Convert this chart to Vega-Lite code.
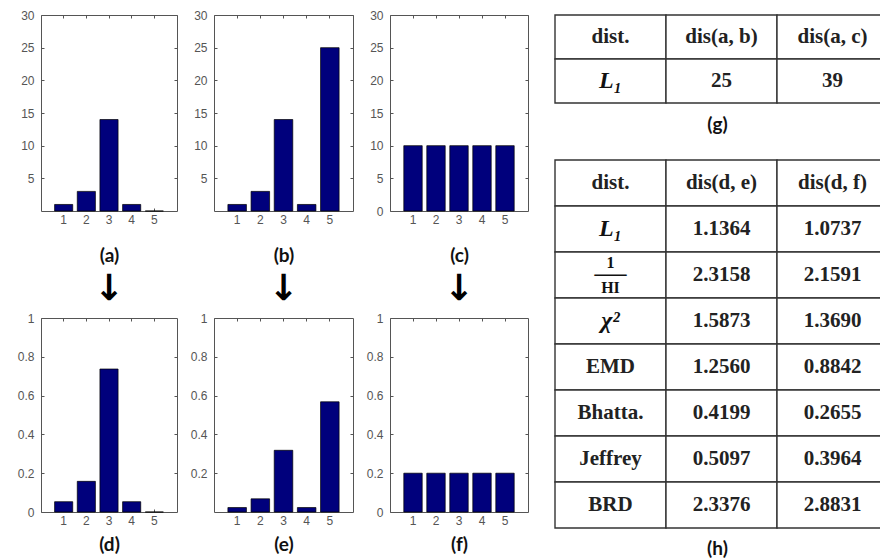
{
  "$schema": "https://vega.github.io/schema/vega-lite/v6.json",
  "background": "white",
  "padding": {"left": 12, "top": 8, "right": 0, "bottom": 0},
  "datasets": {
    "a": [{"bin": 1, "value": 1}, {"bin": 2, "value": 3}, {"bin": 3, "value": 14}, {"bin": 4, "value": 1}, {"bin": 5, "value": 0}],
    "b": [{"bin": 1, "value": 1}, {"bin": 2, "value": 3}, {"bin": 3, "value": 14}, {"bin": 4, "value": 1}, {"bin": 5, "value": 25}],
    "c": [{"bin": 1, "value": 10}, {"bin": 2, "value": 10}, {"bin": 3, "value": 10}, {"bin": 4, "value": 10}, {"bin": 5, "value": 10}],
    "d": [{"bin": 1, "value": 0.053}, {"bin": 2, "value": 0.158}, {"bin": 3, "value": 0.737}, {"bin": 4, "value": 0.053}, {"bin": 5, "value": 0}],
    "e": [{"bin": 1, "value": 0.023}, {"bin": 2, "value": 0.068}, {"bin": 3, "value": 0.318}, {"bin": 4, "value": 0.023}, {"bin": 5, "value": 0.568}],
    "f": [{"bin": 1, "value": 0.2}, {"bin": 2, "value": 0.2}, {"bin": 3, "value": 0.2}, {"bin": 4, "value": 0.2}, {"bin": 5, "value": 0.2}],
    "g": [
      {"r": 0, "c": 0, "t": "dist."}, {"r": 0, "c": 1, "t": "dis(a, b)"}, {"r": 0, "c": 2, "t": "dis(a, c)"},
      {"r": 1, "c": 0, "t": "L₁"}, {"r": 1, "c": 1, "t": "25"}, {"r": 1, "c": 2, "t": "39"}
    ],
    "h": [
      {"r": 0, "c": 0, "t": "dist."}, {"r": 0, "c": 1, "t": "dis(d, e)"}, {"r": 0, "c": 2, "t": "dis(d, f)"},
      {"r": 1, "c": 0, "t": "L₁"}, {"r": 1, "c": 1, "t": "1.1364"}, {"r": 1, "c": 2, "t": "1.0737"},
      {"r": 2, "c": 0, "t": "1/HI"}, {"r": 2, "c": 1, "t": "2.3158"}, {"r": 2, "c": 2, "t": "2.1591"},
      {"r": 3, "c": 0, "t": "χ²"}, {"r": 3, "c": 1, "t": "1.5873"}, {"r": 3, "c": 2, "t": "1.3690"},
      {"r": 4, "c": 0, "t": "EMD"}, {"r": 4, "c": 1, "t": "1.2560"}, {"r": 4, "c": 2, "t": "0.8842"},
      {"r": 5, "c": 0, "t": "Bhatta."}, {"r": 5, "c": 1, "t": "0.4199"}, {"r": 5, "c": 2, "t": "0.2655"},
      {"r": 6, "c": 0, "t": "Jeffrey"}, {"r": 6, "c": 1, "t": "0.5097"}, {"r": 6, "c": 2, "t": "0.3964"},
      {"r": 7, "c": 0, "t": "BRD"}, {"r": 7, "c": 1, "t": "2.3376"}, {"r": 7, "c": 2, "t": "2.8831"}
    ]
  },
  "hconcat": [
    {
      "spacing": 4,
      "vconcat": [
        {
          "spacing": 7,
          "hconcat": [
            {
              "width": 136, "height": 196, "data": {"name": "a"},
              "layer": [
                {"mark": {"type": "bar", "color": "#00007c", "stroke": "#000", "strokeWidth": 0.7},
                 "encoding": {
                   "x": {"field": "bin", "type": "ordinal", "scale": {"paddingInner": 0.2, "paddingOuter": 0.6}, "axis": {"orient": "bottom", "title": "(a)", "titlePadding": 20}},
                   "y": {"field": "value", "type": "quantitative", "scale": {"domain": [0, 30], "nice": false}, "axis": {"orient": "left", "title": null, "values": [5, 10, 15, 20, 25, 30]}}}},
                {"mark": {"type": "bar", "opacity": 0},
                 "encoding": {
                   "x": {"field": "bin", "type": "ordinal", "axis": {"orient": "top", "title": null}},
                   "y": {"field": "value", "type": "quantitative", "axis": {"orient": "right", "title": null, "values": [5, 10, 15, 20, 25, 30]}}}}
              ],
              "resolve": {"axis": {"x": "independent", "y": "independent"}}
            },
            {
              "width": 139, "height": 196, "data": {"name": "b"},
              "layer": [
                {"mark": {"type": "bar", "color": "#00007c", "stroke": "#000", "strokeWidth": 0.7},
                 "encoding": {
                   "x": {"field": "bin", "type": "ordinal", "scale": {"paddingInner": 0.2, "paddingOuter": 0.6}, "axis": {"orient": "bottom", "title": "(b)", "titlePadding": 20}},
                   "y": {"field": "value", "type": "quantitative", "scale": {"domain": [0, 30], "nice": false}, "axis": {"orient": "left", "title": null, "values": [5, 10, 15, 20, 25, 30]}}}},
                {"mark": {"type": "bar", "opacity": 0},
                 "encoding": {
                   "x": {"field": "bin", "type": "ordinal", "axis": {"orient": "top", "title": null}},
                   "y": {"field": "value", "type": "quantitative", "axis": {"orient": "right", "title": null, "values": [5, 10, 15, 20, 25, 30]}}}}
              ],
              "resolve": {"axis": {"x": "independent", "y": "independent"}}
            },
            {
              "width": 138, "height": 196, "data": {"name": "c"},
              "layer": [
                {"mark": {"type": "bar", "color": "#00007c", "stroke": "#000", "strokeWidth": 0.7},
                 "encoding": {
                   "x": {"field": "bin", "type": "ordinal", "scale": {"paddingInner": 0.2, "paddingOuter": 0.6}, "axis": {"orient": "bottom", "title": "(c)", "titlePadding": 20}},
                   "y": {"field": "value", "type": "quantitative", "scale": {"domain": [0, 30], "nice": false}, "axis": {"orient": "left", "title": null, "values": [0, 5, 10, 15, 20, 25, 30]}}}},
                {"mark": {"type": "bar", "opacity": 0},
                 "encoding": {
                   "x": {"field": "bin", "type": "ordinal", "axis": {"orient": "top", "title": null}},
                   "y": {"field": "value", "type": "quantitative", "axis": {"orient": "right", "title": null, "values": [5, 10, 15, 20, 25, 30]}}}}
              ],
              "resolve": {"axis": {"x": "independent", "y": "independent"}}
            }
          ]
        },
        {
          "spacing": 7,
          "hconcat": [
            {
              "width": 136, "height": 194, "data": {"name": "d"},
              "title": {"text": "↓", "frame": "group"},
              "layer": [
                {"mark": {"type": "bar", "color": "#00007c", "stroke": "#000", "strokeWidth": 0.7},
                 "encoding": {
                   "x": {"field": "bin", "type": "ordinal", "scale": {"paddingInner": 0.2, "paddingOuter": 0.6}, "axis": {"orient": "bottom", "title": "(d)", "titlePadding": 8}},
                   "y": {"field": "value", "type": "quantitative", "scale": {"domain": [0, 1], "nice": false}, "axis": {"orient": "left", "title": null, "values": [0, 0.2, 0.4, 0.6, 0.8, 1], "format": "~g"}}}},
                {"mark": {"type": "bar", "opacity": 0},
                 "encoding": {
                   "x": {"field": "bin", "type": "ordinal", "axis": {"orient": "top", "title": null}},
                   "y": {"field": "value", "type": "quantitative", "axis": {"orient": "right", "title": null, "values": [0.2, 0.4, 0.6, 0.8]}}}}
              ],
              "resolve": {"axis": {"x": "independent", "y": "independent"}}
            },
            {
              "width": 139, "height": 194, "data": {"name": "e"},
              "title": {"text": "↓", "frame": "group"},
              "layer": [
                {"mark": {"type": "bar", "color": "#00007c", "stroke": "#000", "strokeWidth": 0.7},
                 "encoding": {
                   "x": {"field": "bin", "type": "ordinal", "scale": {"paddingInner": 0.2, "paddingOuter": 0.6}, "axis": {"orient": "bottom", "title": "(e)", "titlePadding": 8}},
                   "y": {"field": "value", "type": "quantitative", "scale": {"domain": [0, 1], "nice": false}, "axis": {"orient": "left", "title": null, "values": [0.2, 0.4, 0.6, 0.8, 1], "format": "~g"}}}},
                {"mark": {"type": "bar", "opacity": 0},
                 "encoding": {
                   "x": {"field": "bin", "type": "ordinal", "axis": {"orient": "top", "title": null}},
                   "y": {"field": "value", "type": "quantitative", "axis": {"orient": "right", "title": null, "values": [0.2, 0.4, 0.6, 0.8]}}}}
              ],
              "resolve": {"axis": {"x": "independent", "y": "independent"}}
            },
            {
              "width": 138, "height": 194, "data": {"name": "f"},
              "title": {"text": "↓", "frame": "group"},
              "layer": [
                {"mark": {"type": "bar", "color": "#00007c", "stroke": "#000", "strokeWidth": 0.7},
                 "encoding": {
                   "x": {"field": "bin", "type": "ordinal", "scale": {"paddingInner": 0.2, "paddingOuter": 0.6}, "axis": {"orient": "bottom", "title": "(f)", "titlePadding": 8}},
                   "y": {"field": "value", "type": "quantitative", "scale": {"domain": [0, 1], "nice": false}, "axis": {"orient": "left", "title": null, "values": [0, 0.2, 0.4, 0.6, 0.8, 1], "format": "~g"}}}},
                {"mark": {"type": "bar", "opacity": 0},
                 "encoding": {
                   "x": {"field": "bin", "type": "ordinal", "axis": {"orient": "top", "title": null}},
                   "y": {"field": "value", "type": "quantitative", "axis": {"orient": "right", "title": null, "values": [0.2, 0.4, 0.6, 0.8]}}}}
              ],
              "resolve": {"axis": {"x": "independent", "y": "independent"}}
            }
          ]
        }
      ]
    },
    {
      "spacing": 24,
      "vconcat": [
        {
          "width": 333, "height": 88, "data": {"name": "g"},
          "view": {"stroke": null},
          "title": {"text": "(g)", "orient": "bottom", "offset": 12, "font": "Lato", "fontSize": 19, "fontWeight": "bold", "color": "#111", "frame": "group", "dx": -4},
          "encoding": {
            "x": {"field": "c", "type": "ordinal", "axis": null, "scale": {"paddingInner": 0, "paddingOuter": 0}},
            "y": {"field": "r", "type": "ordinal", "axis": null, "scale": {"paddingInner": 0, "paddingOuter": 0}}
          },
          "layer": [
            {"mark": {"type": "rect", "fill": "white", "stroke": "#333", "strokeWidth": 1.4}},
            {"transform": [{"filter": "datum.t != 'L₁'"}],
             "mark": {"type": "text", "font": "Liberation Serif", "fontWeight": "bold", "fontSize": 21, "color": "#222"},
             "encoding": {"text": {"field": "t"}}},
            {"transform": [{"filter": "datum.t == 'L₁'"}],
             "mark": {"type": "text", "font": "Liberation Serif", "fontWeight": "bold", "fontStyle": "italic", "fontSize": 24, "color": "#111"},
             "encoding": {"text": {"field": "t"}}}
          ]
        },
        {
          "width": 333, "height": 368, "data": {"name": "h"},
          "view": {"stroke": null},
          "title": {"text": "(h)", "orient": "bottom", "offset": 11, "font": "Lato", "fontSize": 19, "fontWeight": "bold", "color": "#111", "frame": "group", "dx": -4},
          "encoding": {
            "x": {"field": "c", "type": "ordinal", "axis": null, "scale": {"paddingInner": 0, "paddingOuter": 0}},
            "y": {"field": "r", "type": "ordinal", "axis": null, "scale": {"paddingInner": 0, "paddingOuter": 0}}
          },
          "layer": [
            {"mark": {"type": "rect", "fill": "white", "stroke": "#333", "strokeWidth": 1.4}},
            {"transform": [{"filter": "datum.t != 'L₁' && datum.t != 'χ²' && datum.t != '1/HI'"}],
             "mark": {"type": "text", "font": "Liberation Serif", "fontWeight": "bold", "fontSize": 21, "color": "#222"},
             "encoding": {"text": {"field": "t"}}},
            {"transform": [{"filter": "datum.t == 'L₁' || datum.t == 'χ²'"}],
             "mark": {"type": "text", "font": "Liberation Serif", "fontWeight": "bold", "fontStyle": "italic", "fontSize": 24, "color": "#111"},
             "encoding": {"text": {"field": "t"}}},
            {"transform": [{"filter": "datum.t == '1/HI'"}],
             "mark": {"type": "text", "font": "Liberation Serif", "fontWeight": "bold", "fontSize": 16, "lineBreak": "/", "lineHeight": 25, "dy": -12, "color": "#111"},
             "encoding": {"text": {"field": "t"}}},
            {"transform": [{"filter": "datum.t == '1/HI'"}],
             "mark": {"type": "text", "text": "—", "font": "Liberation Serif", "fontSize": 32, "dy": -2, "color": "#111"}}
          ]
        }
      ]
    }
  ],
  "spacing": 25,
  "config": {
    "view": {"stroke": "#555", "strokeWidth": 1},
    "axis": {
      "domain": false, "grid": false,
      "tickColor": "#555", "tickSize": -3, "tickWidth": 1,
      "labelFont": "Liberation Sans", "labelFontSize": 12, "labelColor": "#555",
      "titleFont": "Lato", "titleFontSize": 19, "titleFontWeight": "bold", "titleColor": "#111"
    },
    "axisLeft": {"minExtent": 28, "maxExtent": 28, "labelPadding": 10},
    "axisBottom": {"minExtent": 15, "maxExtent": 15, "labelPadding": 6, "labelAngle": 0},
    "axisTop": {"labels": false, "minExtent": 0, "maxExtent": 0},
    "axisRight": {"labels": false, "minExtent": 0, "maxExtent": 0},
    "title": {"font": "DejaVu Sans", "fontSize": 36, "color": "#000", "offset": 4, "anchor": "middle"}
  }
}
